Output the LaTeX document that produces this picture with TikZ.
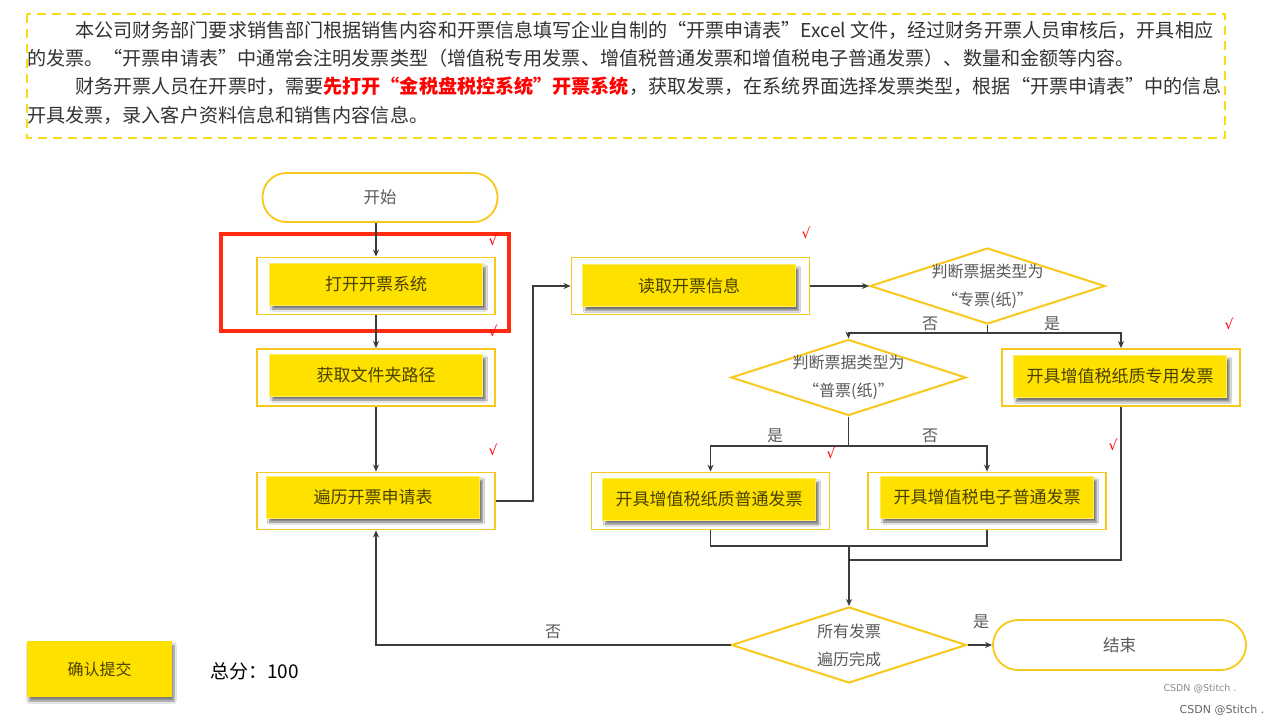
\documentclass[tikz,border=0pt]{standalone}
\usepackage{fontspec}
\setmainfont{Noto Sans CJK SC}
\newfontfamily\dejavu{DejaVu Sans}
\usetikzlibrary{shapes.geometric,arrows.meta,shadows.blur}
\definecolor{ydash}{HTML}{FBDC14}
\definecolor{ygold}{HTML}{F8C81A}
\definecolor{yfill}{HTML}{FFE100}
\definecolor{txtdark}{HTML}{4A4200}
\definecolor{txtgray}{HTML}{5A5A5A}
\definecolor{conncol}{HTML}{3C3C3C}
\definecolor{redbox}{HTML}{FF2A10}
\tikzset{
  para/.style={anchor=west, inner sep=0pt, text=black!80, font=\fontsize{19.1}{24}\selectfont},
  outerbox/.style={draw=ygold, line width=1.8pt, fill=white, minimum width=238pt, minimum height=57pt, inner sep=0pt},
  innerbox/.style={fill=yfill, draw=yfill!60!white, line width=0.8pt, minimum width=213pt, minimum height=42pt, inner sep=0pt,
     blur shadow={shadow xshift=3pt, shadow yshift=-4pt, shadow blur steps=8, shadow opacity=55},
     text=txtdark, font=\fontsize{17}{20}\selectfont},
  terminal/.style={draw=ygold, line width=1.8pt, fill=white, rounded corners=24pt, minimum height=49pt, inner sep=0pt,
     text=txtgray, font=\fontsize{16.5}{20}\selectfont},
  decision/.style={diamond, draw=ygold, line width=2pt, fill=white, minimum width=235pt, minimum height=76pt, inner sep=0pt},
  dtext/.style={align=center, text=txtgray, font=\fontsize{16}{28}\selectfont, inner sep=0pt},
  lbl/.style={text=txtgray, font=\fontsize{16}{20}\selectfont, inner sep=0pt},
  chk/.style={text=red, font=\dejavu\fontsize{14}{15}\selectfont, inner sep=0pt},
  line/.style={draw=conncol, line width=1.8pt},
  conn/.style={line, -{Stealth[length=7pt,width=6pt]}},
}
\begin{document}
\begin{tikzpicture}[x=1pt,y=-1pt]
\useasboundingbox (0,0) rectangle (1285,725);
\fill[white] (0,0) rectangle (1285,725);
% paragraph box
\draw[ydash, line width=2pt, dash pattern=on 9pt off 6pt] (27,14) rectangle (1225,138);
\node[para] (p1) at (75,30) {本公司财务部门要求销售部门根据销售内容和开票信息填写企业自制的“开票申请表”Excel 文件，经过财务开票人员审核后，开具相应};
\node[para] (p2) at (27,58) {的发票。“开票申请表”中通常会注明发票类型（增值税专用发票、增值税普通发票和增值税电子普通发票）、数量和金额等内容。};
\node[para] (p3) at (75,86) {财务开票人员在开票时，需要{\color{red}\bfseries 先打开“金税盘税控系统”开票系统}，获取发票，在系统界面选择发票类型，根据“开票申请表”中的信息};
\node[para] (p4) at (27,115) {开具发票，录入客户资料信息和销售内容信息。};

% start
\node[terminal, minimum width=235pt] (start) at (380,197.5) {开始};

% process boxes
\node[outerbox] (o1) at (376,286) {};
\node[innerbox] (b1) at (376,284) {打开开票系统};
\node[outerbox] (o2) at (376,377.5) {};
\node[innerbox] (b2) at (376,375) {获取文件夹路径};
\node[outerbox] (o3) at (376,501) {};
\node[innerbox] (b3) at (373,497) {遍历开票申请表};
\node[outerbox] (o4) at (690.5,286) {};
\node[innerbox] (b4) at (689,285.5) {读取开票信息};
\node[outerbox] (o5) at (1121,377.5) {};
\node[innerbox] (b5) at (1120,376.5) {开具增值税纸质专用发票};
\node[outerbox] (o6) at (710.5,501) {};
\node[innerbox] (b6) at (709,499) {开具增值税纸质普通发票};
\node[outerbox] (o7) at (987,501) {};
\node[innerbox] (b7) at (987,497) {开具增值税电子普通发票};

% red highlight
\draw[redbox, line width=3.5pt] (221,234) rectangle (509,331);

% decisions
\node[decision] (d1) at (987.5,286) {};
\node[dtext] (t1) at (987.5,286) {判断票据类型为\\“专票(纸)”};
\node[decision] (d2) at (848.5,377.5) {};
\node[dtext] (t2) at (848.5,377.5) {判断票据类型为\\“普票(纸)”};
\node[decision] (d3) at (849,645) {};
\node[dtext] (t3) at (849,645) {所有发票\\遍历完成};

% end
\node[terminal, minimum width=253pt, rounded corners=25pt, minimum height=50pt] (end) at (1119.5,645) {结束};

% junction coordinates
\coordinate (j1) at (987.5,333);
\coordinate (j2) at (848.5,446);
\coordinate (j3) at (849,546);
\coordinate (j4) at (849,560);

% connectors
\draw[conn] (o1.north |- start.south) -- (o1.north);
\draw[conn] (o1.south) -- (o2.north);
\draw[conn] (o2.south) -- (o3.north);
\draw[conn] (o3.east) -- ++(37,0) |- (o4.west);
\draw[conn] (o4.east) -- (d1.west);
\draw[line] (d1.south) -- (j1);
\draw[conn] (j1) -| (d2.north);
\draw[conn] (j1) -| (o5.north);
\draw[line] (d2.south) -- (j2);
\draw[conn] (j2) -| (o6.north);
\draw[conn] (j2) -| (o7.north);
\draw[line] (o6.south) |- (j3);
\draw[line] (o7.south) |- (j3);
\draw[line] (o5.south) |- (j4);
\draw[conn] (j3) -- (d3.north);
\draw[conn] (d3.west) -| (o3.south);
\draw[conn] (d3.east) -- (end.west);

% branch labels
\node[lbl] (l1) at (930,324) {否};
\node[lbl] (l2) at (1052,324) {是};
\node[lbl] (l3) at (775,436) {是};
\node[lbl] (l4) at (930,436) {否};
\node[lbl] (l5) at (553,632) {否};
\node[lbl] (l6) at (981,622) {是};

% check marks
\node[chk] (c1) at (493,240) {√};
\node[chk] (c2) at (493,331) {√};
\node[chk] (c3) at (806,233) {√};
\node[chk] (c4) at (493,450) {√};
\node[chk] (c5) at (831,453) {√};
\node[chk] (c6) at (1229,324) {√};
\node[chk] (c7) at (1113,445) {√};

% submit button and score
\node[fill=yfill, minimum width=145pt, minimum height=56pt, inner sep=0pt,
  blur shadow={shadow xshift=2pt, shadow yshift=-4pt, shadow blur steps=8, shadow opacity=50},
  text=txtdark, font=\fontsize{16}{20}\selectfont] (submit) at (99.5,669) {确认提交};
\node[anchor=west, inner sep=0pt, text=black, font=\fontsize{19}{22}\selectfont] (score) at (210,671) {总分：100};

% watermarks
\node[text=black!45, font=\dejavu\fontsize{9.5}{11}\selectfont, inner sep=0pt] (w1) at (1200,689) {CSDN @Stitch .};
\node[text=black!60, font=\dejavu\fontsize{11}{13}\selectfont, inner sep=0pt] (w2) at (1222,710) {CSDN @Stitch .};
\end{tikzpicture}
\end{document}
